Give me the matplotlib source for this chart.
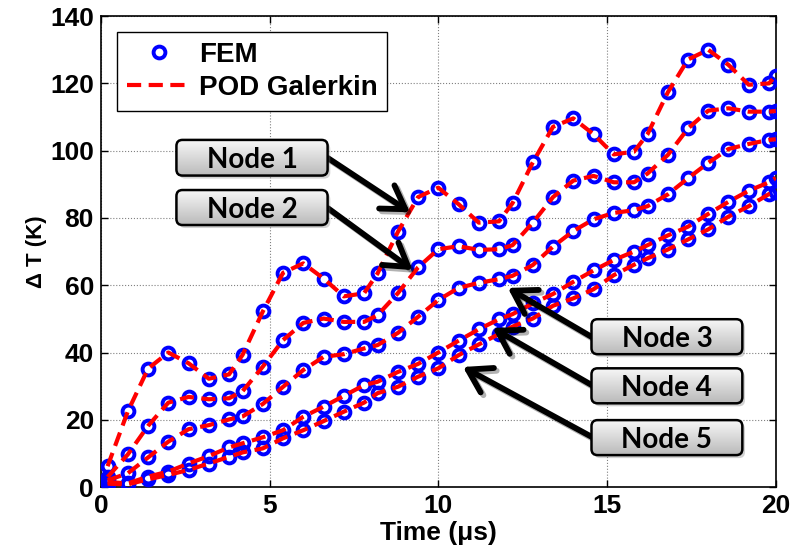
import numpy as np
import matplotlib.pyplot as plt
from matplotlib.patches import FancyBboxPatch
from matplotlib.colors import LinearSegmentedColormap
import matplotlib.patheffects as pe

plt.rcParams['font.family'] = ['Liberation Sans', 'DejaVu Sans']
plt.rcParams['font.weight'] = 'bold'

# time samples (us)
t = [0.2, 0.8, 1.4, 2.0, 2.6, 3.2, 3.8, 4.2, 4.8, 5.4, 6.0, 6.6, 7.2, 7.8,
     8.2, 8.8, 9.4, 10.0, 10.6, 11.2, 11.8, 12.2, 12.8, 13.4, 14.0, 14.6,
     15.2, 15.8, 16.2, 16.8, 17.4, 18.0, 18.6, 19.2, 19.8, 20.0]

# temperature rise (K) per node
node1 = [6.2, 22.5, 35.2, 40.0, 36.8, 32.2, 33.5, 39.3, 52.2, 63.7, 66.5, 62.0,
         56.7, 57.6, 63.5, 75.8, 86.2, 89.0, 84.1, 78.6, 79.0, 84.4, 96.5, 107.1,
         109.6, 104.9, 98.9, 99.7, 104.9, 117.3, 127.1, 130.0, 125.5, 119.6, 120.0, 122.3]
node2 = [3.0, 9.7, 18.2, 25.1, 26.8, 26.1, 26.4, 28.5, 35.8, 43.7, 48.8, 50.1,
         49.1, 49.1, 51.1, 57.6, 65.3, 70.7, 71.6, 70.5, 70.7, 71.9, 78.6, 86.2,
         91.1, 92.5, 90.6, 90.6, 93.2, 98.7, 106.6, 111.9, 112.6, 111.6, 111.6, 111.8]
node3 = [2.0, 4.1, 8.8, 13.5, 17.2, 18.4, 20.1, 21.0, 24.7, 29.8, 34.8, 38.7,
         39.5, 41.2, 42.2, 45.8, 50.6, 55.6, 59.2, 60.7, 61.8, 62.8, 66.0, 71.5,
         76.1, 79.6, 81.5, 82.3, 83.5, 87.0, 91.8, 96.4, 100.5, 102.0, 103.2, 103.4]
node4 = [1.5, 1.1, 3.1, 4.6, 7.0, 9.2, 11.8, 13.0, 14.8, 16.9, 20.9, 23.9,
         27.1, 30.3, 31.3, 34.2, 36.6, 40.0, 43.5, 46.9, 49.9, 51.4, 54.6, 57.4,
         61.0, 64.4, 67.5, 70.0, 71.9, 74.8, 77.4, 81.2, 84.8, 88.1, 90.6, 91.9]
node5 = [1.0, 0.8, 2.3, 3.6, 5.1, 7.0, 9.0, 10.3, 11.5, 14.5, 16.9, 19.6,
         22.4, 25.1, 27.9, 29.8, 32.8, 35.3, 39.2, 42.4, 45.5, 47.7, 50.1, 53.9,
         56.1, 58.8, 63.0, 66.1, 68.0, 70.6, 73.6, 76.6, 80.4, 83.5, 87.1, 87.6]

nodes = [node1, node2, node3, node4, node5]
node_labels = ['Node 1', 'Node 2', 'Node 3', 'Node 4', 'Node 5']

# label boxes (x0, x1, y0, y1) and arrows (start, tip) in data units
boxes = [(2.24, 6.72, 92.6, 103.2), (2.24, 6.72, 77.9, 88.3),
         (14.54, 19.01, 39.5, 49.9), (14.54, 19.01, 24.9, 35.3),
         (14.54, 19.01, 9.5, 19.9)]
arrows = [((6.73, 97.8), (9.16, 81.7)), ((6.73, 82.9), (9.24, 64.5)),
          ((14.55, 44.6), (12.06, 59.2)), ((14.55, 30.3), (11.61, 47.3)),
          ((14.55, 14.9), (10.73, 35.7))]

fig = plt.figure(figsize=(7.94, 5.56), dpi=100)
ax = fig.add_axes([0.127, 0.124, 0.850, 0.847])

for i, y in enumerate(nodes):
    ax.plot(t, y, 'o', mfc='none', mec='blue', ms=8.5, mew=2.8, zorder=3,
            label='FEM' if i == 0 else None)
    ax.plot(t, y, '--', color='red', lw=3, dashes=(3.4, 1.8), zorder=4,
            label='POD Galerkin' if i == 0 else None)

ax.set_xlim(0, 20)
ax.set_ylim(0, 140)
ax.set_xticks([0, 5, 10, 15, 20])
ax.set_yticks(np.arange(0, 141, 20))
ax.tick_params(direction='in', top=True, right=True, length=5, width=1,
               labelsize=19, pad=5)
ax.grid(True, linestyle=':', color='gray', lw=0.8)
for s in ax.spines.values():
    s.set_linewidth(1.2)

ax.set_xlabel('Time (\u03bcs)', fontsize=19, fontweight='bold', labelpad=2)
ax.set_ylabel('\u0394 T (K)', fontsize=16, fontweight='bold', labelpad=2)

leg = ax.legend(loc='upper left', bbox_to_anchor=(0.024, 0.966), borderaxespad=0,
                fontsize=20, fancybox=False, edgecolor='black', framealpha=1,
                handlelength=2.3, handletextpad=0.3, labelspacing=0.25,
                borderpad=0.35)
leg.get_frame().set_linewidth(1.0)
leg.set_zorder(10)

# gradient label boxes
cmap = LinearSegmentedColormap.from_list('g', ['#f7f7f7', '#bababa'])
grad = np.linspace(0, 1, 64).reshape(-1, 1)
asp = 10.0
for label, (x0, x1, y0, y1), (start, tip) in zip(node_labels, boxes, arrows):
    ax.annotate('', xy=tip, xytext=start,
                arrowprops=dict(arrowstyle='->,head_length=0.8,head_width=0.5',
                                lw=4.2, color='black', shrinkA=0, shrinkB=0,
                                mutation_scale=20,
                                path_effects=[pe.SimpleLineShadow(offset=(2, -2), alpha=0.3),
                                              pe.Normal()]),
                zorder=6)
    sh = FancyBboxPatch((x0 + 0.08, y0 - 0.9), x1 - x0, y1 - y0,
                        boxstyle='round,pad=0,rounding_size=0.18', mutation_aspect=asp,
                        fc='gray', ec='none', alpha=0.35, zorder=6.5)
    ax.add_patch(sh)
    box = FancyBboxPatch((x0, y0), x1 - x0, y1 - y0,
                         boxstyle='round,pad=0,rounding_size=0.18', mutation_aspect=asp,
                         fc='none', ec='black', lw=1.8, zorder=7.5)
    ax.add_patch(box)
    im = ax.imshow(grad, extent=[x0, x1, y0, y1], cmap=cmap, aspect='auto',
                   origin='upper', zorder=7, interpolation='bilinear')
    im.set_clip_path(box)
    ax.text((x0 + x1) / 2, (y0 + y1) / 2, label, ha='center', va='center_baseline',
            fontsize=20, fontweight='bold', family=['Lato', 'DejaVu Sans'], zorder=8)

ax.set_xlim(0, 20)
ax.set_ylim(0, 140)

fig.savefig('out.png', dpi=100)
